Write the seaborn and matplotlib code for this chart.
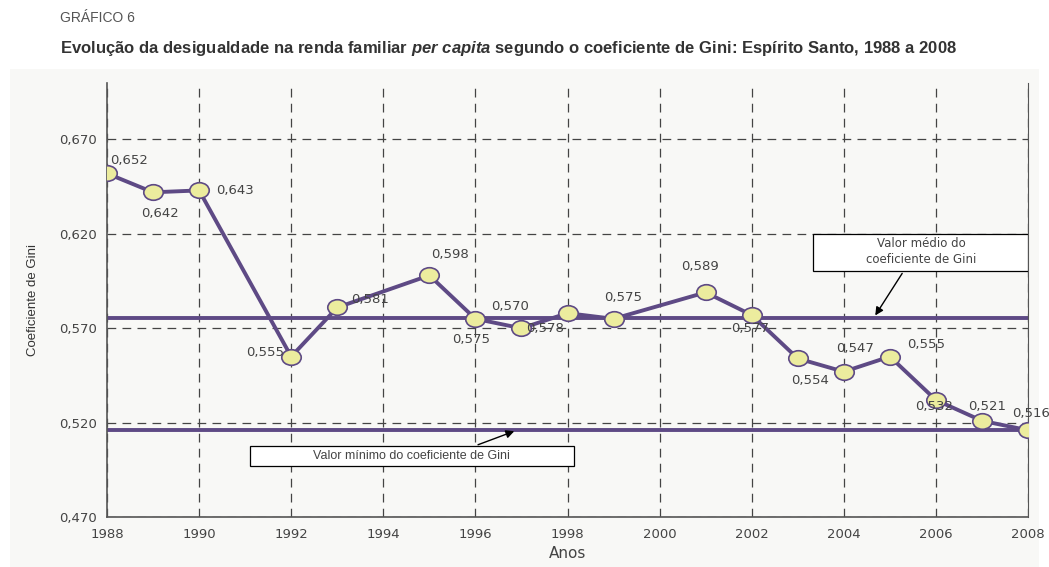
import matplotlib
matplotlib.use("Agg")
import matplotlib.pyplot as plt
from matplotlib.path import Path
from matplotlib.patches import Rectangle
from matplotlib.ticker import FuncFormatter
import numpy as np
import pandas as pd
import seaborn as sns

# data
anos = [1988, 1989, 1990, 1992, 1993, 1995, 1996, 1997, 1998, 1999,
        2001, 2002, 2003, 2004, 2005, 2006, 2007, 2008]
gini = [0.652, 0.642, 0.643, 0.555, 0.581, 0.598, 0.575, 0.570, 0.578, 0.575,
        0.589, 0.577, 0.554, 0.547, 0.555, 0.532, 0.521, 0.516]
y_ticks = [0.470, 0.520, 0.570, 0.620, 0.670]
x_ticks = list(range(1988, 2009, 2))

# label offsets in points (dx, dy, ha)
offsets = [(2, 9, 'left'), (5, -15, 'center'), (12, 0, 'left'), (-5, 3, 'right'),
           (10, 6, 'left'), (15, 15, 'center'), (-3, -15, 'center'), (-8, 16, 'center'),
           (-16, -11, 'center'), (7, 15, 'center'), (-4, 19, 'center'), (-1, -10, 'center'),
           (9, -16, 'center'), (8, 17, 'center'), (26, 9, 'center'), (-1, -5, 'center'),
           (4, 10, 'center'), (2, 12, 'center')]

df = pd.DataFrame({'Anos': anos, 'Gini': gini})
media = np.mean(gini)
minimo = min(gini)

sns.set_theme(style='white')
plt.rcParams['font.family'] = ['DejaVu Sans']
plt.rcParams['mathtext.fontset'] = 'custom'
plt.rcParams['mathtext.it'] = 'Liberation Sans:italic:bold'
plt.rcParams['mathtext.rm'] = 'Liberation Sans:bold'
narrow = ['Liberation Sans', 'DejaVu Sans']

purple = '#5e4a85'
yellow = '#ecec9e'
bg = '#f8f8f6'

fig = plt.figure(figsize=(10.49, 5.67), dpi=100)
fig.patches.append(Rectangle((0.01, 0.0), 0.98, 0.878, transform=fig.transFigure,
                             facecolor=bg, edgecolor='none', zorder=-10))
ax = fig.add_axes([0.102, 0.088, 0.878, 0.766])
ax.set_facecolor(bg)

ax.axhline(media, color=purple, lw=2.8, zorder=2)
ax.axhline(minimo, color=purple, lw=2.8, zorder=2)

circle = Path.unit_circle()
ellipse = Path(circle.vertices * np.array([1.25, 1.0]), circle.codes)
sns.lineplot(data=df, x='Anos', y='Gini', ax=ax, color=purple, lw=2.8,
             marker=ellipse, markersize=14, markerfacecolor=yellow,
             markeredgecolor=purple, markeredgewidth=1.2, zorder=4)

for a, g, (dx, dy, ha) in zip(anos, gini, offsets):
    ax.annotate(f'{g:.3f}'.replace('.', ','), (a, g), xytext=(dx, dy),
                textcoords='offset points', ha=ha, va='center',
                fontsize=9.5, color='#444444', zorder=5)

ax.set_xlim(1988, 2008)
ax.set_ylim(0.470, 0.700)
ax.set_xticks(x_ticks)
ax.set_yticks(y_ticks)
ax.yaxis.set_major_formatter(FuncFormatter(lambda v, p: f'{v:.3f}'.replace('.', ',')))
ax.tick_params(axis='both', labelsize=9.5, colors='#333333', length=4, direction='out')
ax.tick_params(axis='both', labelcolor='#444444')
ax.grid(True, color='#444444', ls=(0, (7, 5)), lw=0.9)
for s in ['left', 'bottom', 'right']:
    ax.spines[s].set_color('#555555')
    ax.spines[s].set_linewidth(1.2)
ax.spines['top'].set_visible(False)
ax.spines['right'].set_linewidth(0.8)

ax.set_xlabel('Anos', fontsize=11, color='#444444', labelpad=4)
ax.set_ylabel('Coeficiente de Gini', fontsize=9.5, color='#333333', labelpad=14,
              family=narrow)

# caixas de anotacao
ax.add_patch(Rectangle((2003.33, 0.6005), 4.66, 0.0195,
                       facecolor='white', edgecolor='black', lw=0.9, zorder=6))
ax.text(2005.68, 0.6105, 'Valor médio do\ncoeficiente de Gini', ha='center', va='center',
        fontsize=8.5, color='#444444', linespacing=1.3, zorder=7)
ax.annotate('', xy=(2004.65, media), xytext=(2005.3, 0.6003),
            arrowprops=dict(arrowstyle='-|>', color='black', lw=1, mutation_scale=12), zorder=7)

ax.add_patch(Rectangle((1991.1, 0.4970), 7.05, 0.0107,
                       facecolor='white', edgecolor='black', lw=0.9, zorder=6))
ax.text(1994.62, 0.50235, 'Valor mínimo do coeficiente de Gini', ha='center', va='center',
        fontsize=9, color='#444444', zorder=7, family=narrow)
ax.annotate('', xy=(1996.9, minimo), xytext=(1996.0, 0.5078),
            arrowprops=dict(arrowstyle='-|>', color='black', lw=1, mutation_scale=12), zorder=7)

fig.text(0.057, 0.968, 'GRÁFICO 6', fontsize=10, color='#555555', va='center',
         family=narrow)
fig.text(0.057, 0.915, 'Evolução da desigualdade na renda familiar $\\it{per\\ capita}$ segundo o coeficiente de Gini: Espírito Santo, 1988 a 2008',
         fontsize=12, color='#333333', weight='bold', va='center', family=narrow)

fig.savefig('out.png', dpi=100)
